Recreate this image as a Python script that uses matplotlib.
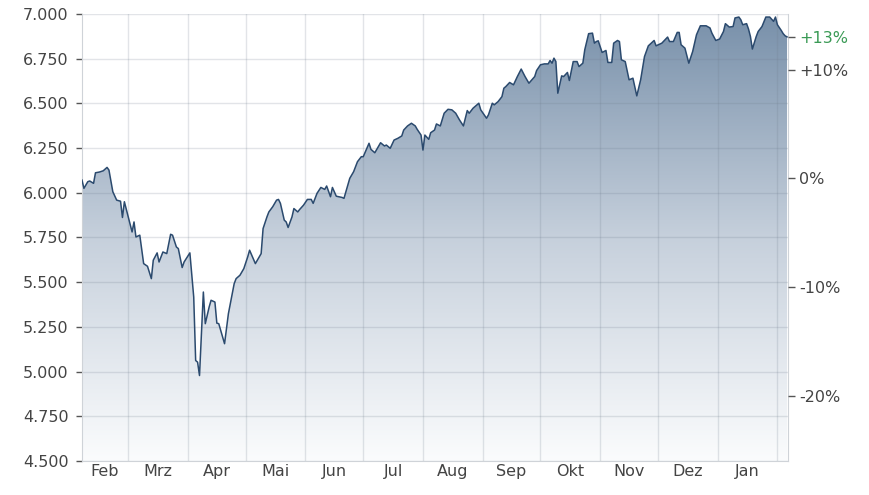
import numpy as np
import pandas as pd
import matplotlib
matplotlib.use('Agg')
import matplotlib.pyplot as plt
import matplotlib.dates as mdates
from matplotlib.colors import LinearSegmentedColormap

# index level (Feb 2025 - Feb 2026)
dates = [
    '2025-02-05', '2025-02-06', '2025-02-08', '2025-02-09', '2025-02-11', '2025-02-12', '2025-02-14',
    '2025-02-16', '2025-02-18', '2025-02-19', '2025-02-21', '2025-02-23', '2025-02-25', '2025-02-26',
    '2025-02-27', '2025-03-01', '2025-03-03', '2025-03-04', '2025-03-05', '2025-03-07', '2025-03-09',
    '2025-03-11', '2025-03-13', '2025-03-14', '2025-03-16', '2025-03-17', '2025-03-19', '2025-03-21',
    '2025-03-23', '2025-03-24', '2025-03-26', '2025-03-27', '2025-03-29', '2025-03-30', '2025-04-02',
    '2025-04-04', '2025-04-05', '2025-04-06', '2025-04-07', '2025-04-09', '2025-04-10', '2025-04-12',
    '2025-04-13', '2025-04-15', '2025-04-16', '2025-04-17', '2025-04-20', '2025-04-22', '2025-04-25',
    '2025-04-26', '2025-04-28', '2025-04-30', '2025-05-02', '2025-05-03', '2025-05-06', '2025-05-09',
    '2025-05-10', '2025-05-12', '2025-05-13', '2025-05-15', '2025-05-17', '2025-05-18', '2025-05-19',
    '2025-05-21', '2025-05-22', '2025-05-23', '2025-05-25', '2025-05-26', '2025-05-28', '2025-05-29',
    '2025-05-31', '2025-06-02', '2025-06-04', '2025-06-05', '2025-06-07', '2025-06-09', '2025-06-11',
    '2025-06-12', '2025-06-14', '2025-06-15', '2025-06-17', '2025-06-20', '2025-06-21', '2025-06-24',
    '2025-06-26', '2025-06-28', '2025-06-30', '2025-07-01', '2025-07-04', '2025-07-05', '2025-07-07',
    '2025-07-09', '2025-07-10', '2025-07-12', '2025-07-13', '2025-07-15', '2025-07-17', '2025-07-19',
    '2025-07-21', '2025-07-22', '2025-07-24', '2025-07-26', '2025-07-28', '2025-07-29', '2025-07-31',
    '2025-08-01', '2025-08-02', '2025-08-04', '2025-08-05', '2025-08-07', '2025-08-08', '2025-08-10',
    '2025-08-12', '2025-08-14', '2025-08-16', '2025-08-18', '2025-08-20', '2025-08-22', '2025-08-24',
    '2025-08-25', '2025-08-27', '2025-08-30', '2025-08-31', '2025-09-03', '2025-09-04', '2025-09-06',
    '2025-09-07', '2025-09-09', '2025-09-11', '2025-09-12', '2025-09-13', '2025-09-15', '2025-09-17',
    '2025-09-19', '2025-09-21', '2025-09-23', '2025-09-25', '2025-09-28', '2025-09-29', '2025-10-01',
    '2025-10-03', '2025-10-05', '2025-10-06', '2025-10-07', '2025-10-08', '2025-10-09', '2025-10-10',
    '2025-10-12', '2025-10-13', '2025-10-15', '2025-10-16', '2025-10-18', '2025-10-20', '2025-10-21',
    '2025-10-23', '2025-10-24', '2025-10-26', '2025-10-28', '2025-10-29', '2025-10-30', '2025-10-31',
    '2025-11-02', '2025-11-04', '2025-11-05', '2025-11-07', '2025-11-08', '2025-11-10', '2025-11-11',
    '2025-11-12', '2025-11-14', '2025-11-16', '2025-11-18', '2025-11-20', '2025-11-22', '2025-11-24',
    '2025-11-26', '2025-11-29', '2025-11-30', '2025-12-03', '2025-12-05', '2025-12-06', '2025-12-07',
    '2025-12-09', '2025-12-11', '2025-12-12', '2025-12-13', '2025-12-15', '2025-12-17', '2025-12-19',
    '2025-12-21', '2025-12-23', '2025-12-26', '2025-12-28', '2025-12-29', '2025-12-31', '2026-01-02',
    '2026-01-04', '2026-01-05', '2026-01-07', '2026-01-09', '2026-01-10', '2026-01-12', '2026-01-13',
    '2026-01-14', '2026-01-16', '2026-01-17', '2026-01-18', '2026-01-19', '2026-01-21', '2026-01-22',
    '2026-01-24', '2026-01-26', '2026-01-28', '2026-01-30', '2026-01-31', '2026-02-01', '2026-02-03',
    '2026-02-04', '2026-02-05', '2026-02-06',
]
values = [
    6071, 6025, 6062, 6066, 6053, 6112, 6116, 6123, 6142, 6127, 6006, 5959, 5953, 5862,
    5950, 5865, 5781, 5837, 5753, 5763, 5604, 5589, 5520, 5623, 5664, 5613, 5669, 5660,
    5768, 5763, 5697, 5688, 5582, 5613, 5664, 5417, 5062, 5053, 4978, 5445, 5268, 5361,
    5399, 5389, 5271, 5268, 5156, 5324, 5492, 5520, 5539, 5576, 5641, 5679, 5604, 5660,
    5800, 5865, 5893, 5922, 5959, 5963, 5941, 5847, 5837, 5806, 5865, 5912, 5893, 5907,
    5931, 5963, 5963, 5941, 5997, 6030, 6019, 6038, 5978, 6030, 5981, 5974, 5969, 6081,
    6118, 6174, 6202, 6202, 6277, 6243, 6224, 6262, 6280, 6262, 6267, 6249, 6295, 6305,
    6318, 6351, 6374, 6389, 6374, 6355, 6323, 6239, 6323, 6299, 6336, 6351, 6385, 6374,
    6445, 6467, 6464, 6445, 6407, 6374, 6460, 6445, 6473, 6501, 6464, 6417, 6436, 6501,
    6492, 6510, 6538, 6585, 6594, 6617, 6604, 6650, 6692, 6650, 6613, 6650, 6684, 6716,
    6721, 6721, 6740, 6725, 6753, 6734, 6557, 6654, 6650, 6673, 6628, 6734, 6734, 6706,
    6725, 6800, 6890, 6893, 6837, 6846, 6850, 6785, 6796, 6729, 6729, 6837, 6852, 6846,
    6744, 6734, 6632, 6641, 6542, 6632, 6762, 6822, 6852, 6822, 6837, 6860, 6871, 6846,
    6846, 6897, 6897, 6828, 6809, 6725, 6790, 6884, 6934, 6934, 6922, 6893, 6852, 6860,
    6902, 6946, 6927, 6930, 6978, 6983, 6968, 6940, 6946, 6916, 6874, 6804, 6874, 6902,
    6930, 6983, 6983, 6959, 6983, 6940, 6908, 6890, 6878, 6872,
]

month_names = ['Feb', 'Mrz', 'Apr', 'Mai', 'Jun', 'Jul', 'Aug', 'Sep', 'Okt', 'Nov', 'Dez', 'Jan']
month_starts = pd.date_range('2025-03-01', '2026-02-01', freq='MS')
x_start = pd.Timestamp('2025-02-05')
x_end = pd.Timestamp('2026-02-06 12:00')
base_value = 6080
pct_ticks = [-20, -10, 0, 10]

x = mdates.date2num(pd.to_datetime(dates))
x0 = mdates.date2num(x_start)
x1 = mdates.date2num(x_end)

fs = 11.5
fig = plt.figure(figsize=(8.7, 4.95), dpi=100)
ax = fig.add_axes([82 / 870, 1 - 461 / 495, (788 - 82) / 870, (461 - 14) / 495])

# gradient fill below the line
cmap = LinearSegmentedColormap.from_list('fade', ['#fbfcfd', '#c6d0dc', '#7890aa'])
poly = ax.fill_between(x, values, 4500, facecolor='none', edgecolor='none')
grad = ax.imshow(np.linspace(0, 1, 256).reshape(-1, 1), cmap=cmap, origin='lower',
                 aspect='auto', extent=[x0, x1, 4500, 7000], zorder=1)
grad.set_clip_path(poly.get_paths()[0], transform=ax.transData)

ax.plot(x, values, color='#2b4a6e', lw=1.1, zorder=3)

ax.set_xlim(x0, x1)
ax.set_ylim(4500, 7000)

# y axis with german thousands separator
yt = list(range(4500, 7001, 250))
ax.set_yticks(yt)
ax.set_yticklabels(['{:,.0f}'.format(v).replace(',', '.') for v in yt])

# month boundaries as grid, names in between
bounds = [x0] + list(mdates.date2num(month_starts))
ax.set_xticks(bounds[1:])
ax.set_xticklabels([])
mids = [(bounds[i] + bounds[i + 1]) / 2 for i in range(len(bounds) - 1)]
ax.set_xticks(mids, minor=True)
ax.set_xticklabels(month_names, minor=True)

ax.grid(True, which='major', color='#6e7c8c', alpha=0.2, lw=1)
for g in ax.get_xgridlines() + ax.get_ygridlines():
    g.set_zorder(2)

ax.tick_params(axis='x', which='both', length=0, pad=2.5, labelsize=fs, labelcolor='#444444')
ax.tick_params(axis='y', length=4.5, width=1, color='#555555', labelsize=fs,
               labelcolor='#444444', pad=5)

ax.spines['top'].set_visible(False)
for s in ['left', 'bottom', 'right']:
    ax.spines[s].set_color('#cfd3d8')

# right axis: change vs. start
ax2 = ax.twinx()
ax2.set_ylim(4500, 7000)
last_pct = (values[-1] / base_value - 1) * 100
rt = [base_value * (1 + p / 100) for p in pct_ticks] + [values[-1]]
rl = ['{:+d}%'.format(p) if p != 0 else '0%' for p in pct_ticks] + ['{:+.0f}%'.format(last_pct)]
ax2.set_yticks(rt)
ax2.set_yticklabels(rl)
ax2.tick_params(axis='y', length=5, width=1, color='#555555', labelsize=fs,
                labelcolor='#444444', pad=3)
ax2.get_yticklabels()[-1].set_color('#3a9a55')
for s in ax2.spines.values():
    s.set_visible(False)

fig.savefig('out.png', dpi=100, facecolor='white')
